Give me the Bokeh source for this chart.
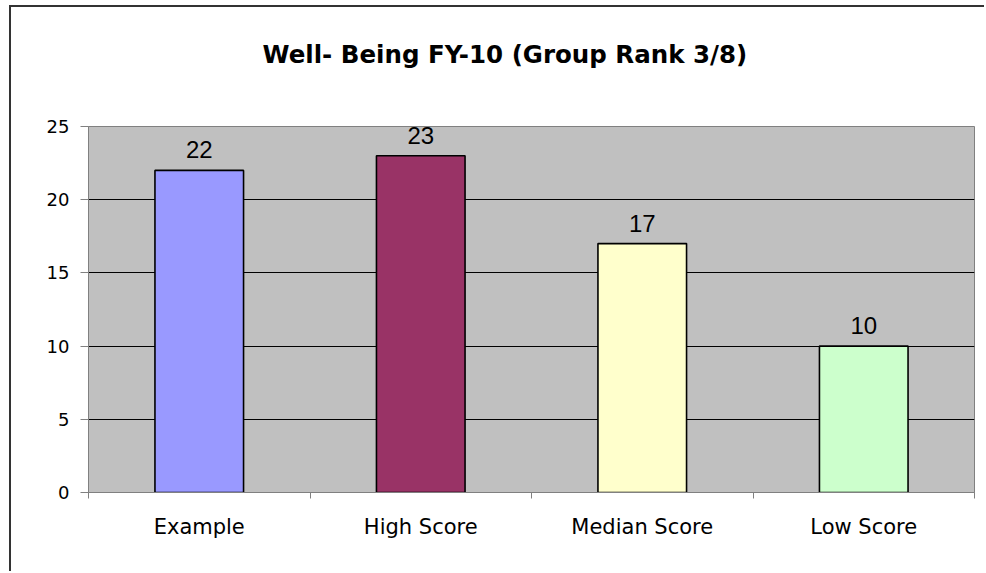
from bokeh.plotting import figure
from bokeh.models import ColumnDataSource, FixedTicker, LabelSet, Range1d, Title
from bokeh.core.properties import value
from bokeh.embed import file_html
from bokeh.resources import INLINE

categories = ["Example", "High Score", "Median Score", "Low Score"]
scores = [22, 23, 17, 10]
bar_colors = ["#9999FF", "#993366", "#FFFFCC", "#CCFFCC"]
y_ticks = [0, 5, 10, 15, 20, 25]
title_text = "Well- Being FY-10 (Group Rank 3/8)"

xpos = [i + 0.5 for i in range(len(categories))]
src = ColumnDataSource(dict(x=xpos, top=scores, color=bar_colors,
                            label=[str(s) for s in scores]))

p = figure(width=975, height=566, output_backend="svg", toolbar_location=None,
           x_range=Range1d(0, len(categories)), y_range=Range1d(0, y_ticks[-1]),
           min_border_left=77, min_border_right=12, min_border_top=119,
           min_border_bottom=81,
           styles={"border-top": "2px solid #333333", "border-left": "2px solid #333333",
                   "margin-top": "5px", "margin-left": "9px"})
p.background_fill_color = "#C0C0C0"
p.border_fill_color = "white"
p.outline_line_color = "#808080"
p.outline_line_width = 1

p.vbar(x="x", top="top", bottom=0, width=0.4, fill_color="color",
       line_color="black", line_width=1.6, source=src)

labels = LabelSet(x="x", y="top", text="label", source=src, text_align="center",
                  text_baseline="bottom", y_offset=12,
                  text_font=value("Liberation Sans"),
                  text_font_size="24px", text_color="black")
p.add_layout(labels)

p.xgrid.visible = False
p.ygrid.ticker = FixedTicker(ticks=[5, 10, 15, 20])
p.ygrid.grid_line_color = "black"
p.ygrid.grid_line_width = 1

# y axis
p.yaxis.ticker = FixedTicker(ticks=y_ticks)
p.yaxis.axis_line_color = "#808080"
p.yaxis.major_tick_line_color = "#808080"
p.yaxis.major_tick_out = 8
p.yaxis.major_tick_in = 0
p.yaxis.minor_tick_line_color = None
p.yaxis.major_label_text_font = "DejaVu Sans"
p.yaxis.major_label_text_font_size = "18px"
p.yaxis.major_label_standoff = 11
p.yaxis.major_label_text_color = "black"

# x axis: labels at centres, ticks at boundaries
p.xaxis.ticker = FixedTicker(ticks=xpos, minor_ticks=list(range(len(categories) + 1)))
p.xaxis.major_label_overrides = {x: c for x, c in zip(xpos, categories)}
p.xaxis.axis_line_color = "#808080"
p.xaxis.major_tick_line_color = None
p.xaxis.major_tick_out = 0
p.xaxis.major_tick_in = 0
p.xaxis.minor_tick_line_color = "#808080"
p.xaxis.minor_tick_out = 6
p.xaxis.minor_tick_in = 0
p.xaxis.major_label_text_font = "DejaVu Sans"
p.xaxis.major_label_text_font_size = "21px"
p.xaxis.major_label_standoff = 16
p.xaxis.major_label_text_color = "black"

# empty spacer between the frame and the chart title
spacer = Title(text=" ", text_font_size="1px", standoff=48)
p.add_layout(spacer, "above")

p.title = Title(text=title_text, align="left", offset=174, standoff=10,
                vertical_align="top",
                text_font="DejaVu Sans", text_font_size="24.5px",
                text_font_style="bold", text_color="black")

open("out.html", "w").write(file_html(p, INLINE))
